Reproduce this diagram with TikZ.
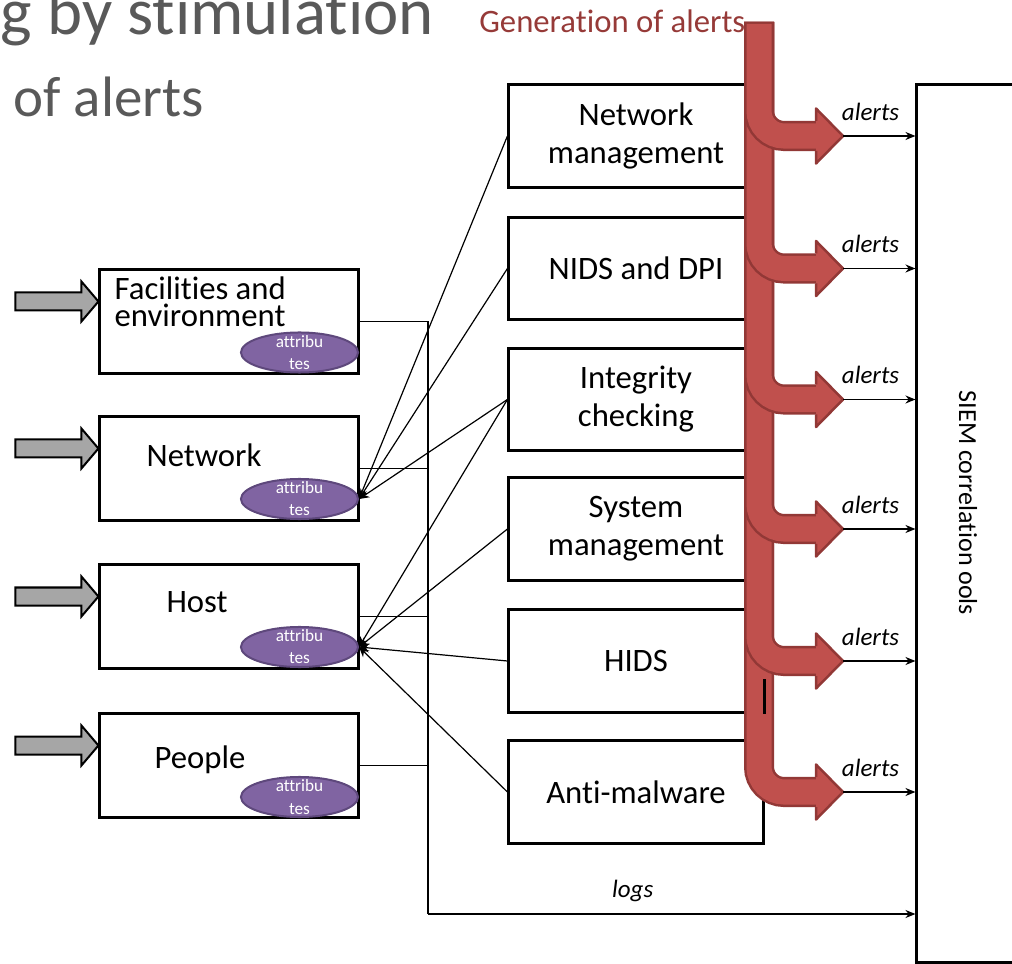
\documentclass[tikz,border=0pt]{standalone}
\usepackage{fontspec}
\setmainfont{Carlito}[Ligatures={NoCommon}]
\usetikzlibrary{shapes.geometric,arrows.meta}
\definecolor{alertred}{RGB}{192,80,77}
\definecolor{alertdark}{RGB}{146,56,54}
\definecolor{attrpurple}{RGB}{128,100,162}
\definecolor{attrdark}{RGB}{94,72,124}
\definecolor{titlegrey}{RGB}{89,89,89}
\definecolor{gentext}{RGB}{150,58,56}
\newcommand{\inarrow}[1]{
\begin{scope}[shift={(#1.west)}]
\filldraw[fill=black!35!white, draw=black, line width=0.2mm, line join=miter] (-83,-29)--(-17,-29)--(-17,-40)--(0,-20)--(-17,0)--(-17,-11)--(-83,-11)--cycle;
\end{scope}
}
\newcommand{\alertbranch}[1]{
\draw[alertdark, line width=3mm, rounded corners=2.5mm] (759,22) -- (759,#1) -- (818,#1);
\draw[alertred, line width=2.5mm, rounded corners=2.5mm] (759,24) -- (759,#1) -- (818,#1);
\fill[alertred] (816,#1-27.5) -- (843,#1) -- (816,#1+27.5) -- cycle;
\draw[alertdark, line width=0.25mm, line join=round] (816,#1-15) -- (816,#1-27.5) -- (843,#1) -- (816,#1+27.5) -- (816,#1+15);
}
\tikzset{
  srcbox/.style={draw, line width=0.3mm, fill=white, minimum width=2.58cm, minimum height=1.03cm, inner sep=0},
  midbox/.style={draw, line width=0.3mm, fill=white, minimum width=2.54cm, minimum height=1.02cm, inner sep=0, align=center, font=\fontsize{9.3}{10.8}\selectfont},
  srctext/.style={inner sep=0, font=\fontsize{9.3}{7.6}\selectfont},
  attrtext/.style={text=white, align=center, inner sep=0, font=\fontsize{4.9}{6.3}\selectfont},
  attr/.style={ellipse, draw=attrdark, fill=attrpurple, line width=0.2mm, minimum width=1.17cm, minimum height=0.4cm, inner sep=0, label={[attrtext]center:{attribu\\tes}}},
  stim/.style={line width=0.12mm, -{Stealth[length=1mm,width=0.9mm]}},
  bus/.style={line width=0.12mm},
  alertline/.style={line width=0.12mm, -{Stealth[length=1mm,width=0.8mm]}},
  alertlbl/.style={pos=0.38, above=1.5mm, inner sep=0, font=\fontsize{7.1}{8}\selectfont\itshape}
}
\begin{document}
\begin{tikzpicture}[x=0.01cm,y=-0.01cm]
\useasboundingbox (0,0) rectangle (1012,964);

% slide title
\node[anchor=base west, inner sep=0, text=titlegrey, font=\fontsize{19}{19}\selectfont] (title) at (0,35) {g by stimulation};
\node[anchor=base west, inner sep=0, text=titlegrey, font=\fontsize{16.2}{16}\selectfont] (subtitle) at (13,117) {of alerts};
\node[anchor=base east, inner sep=0, text=gentext, font=\fontsize{9.3}{10}\selectfont] (gentitle) at (746,33) {Generation of alerts};

% sources
\node[srcbox] (fac) at (229,321.5) {};
\node[srcbox] (net) at (229,468.5) {};
\node[srcbox] (host) at (229,616.5) {};
\node[srcbox] (people) at (229,765.5) {};

\node[srctext, anchor=north west, align=left] (factext) at (114,276) {Facilities and\\environment};
\node[srctext, anchor=base] (nettext) at (204,467) {Network};
\node[srctext, anchor=base] (hosttext) at (197,612) {Host};
\node[srctext, anchor=base] (peopletext) at (200,768) {People};

\node[attr] (facattr) at (299.5,352.5) {};
\node[attr] (netattr) at (299.5,499) {};
\node[attr] (hostattr) at (299.5,647) {};
\node[attr] (peopleattr) at (299.5,797) {};

\inarrow{fac}
\inarrow{net}
\inarrow{host}
\inarrow{people}

% sensors
\node[midbox] (netmgmt) at (636,136) {Network\\management};
\node[midbox] (nids) at (636,268.5) {NIDS and DPI};
\node[midbox] (integ) at (636,399.5) {Integrity\\checking};
\node[midbox] (sysmgmt) at (636,529) {System\\management};
\node[midbox] (hids) at (636,661) {HIDS};
\node[midbox] (antimal) at (636,792) {Anti-malware};

\node[draw, line width=0.3mm, minimum width=1.3cm, minimum height=8.77cm, inner sep=0] (siem) at (982,523.5) {};
\node[rotate=-90, inner sep=0, font=\fontsize{7.4}{8}\selectfont] (siemtext) at (968,503) {SIEM correlation ools};

% stimulation
\draw[stim] (netmgmt.west) -- (netattr.east);
\draw[stim] (nids.west) -- (netattr.east);
\draw[stim] (integ.west) -- (netattr.east);
\draw[stim] (integ.west) -- (hostattr.east);
\draw[stim] (sysmgmt.west) -- (hostattr.east);
\draw[stim] (hids.west) -- (hostattr.east);
\draw[stim] (antimal.west) -- (hostattr.east);

% logs
\coordinate (bustop) at (428,321.5);
\coordinate (busbot) at (428,914);
\draw[bus] (fac.east) -- (fac.east -| bustop);
\draw[bus] (net.east) -- (net.east -| bustop);
\draw[bus] (host.east) -- (host.east -| bustop);
\draw[bus] (people.east) -- (people.east -| bustop);
\draw[bus] (bustop) -- (busbot);
\draw[alertline] (busbot) -- (busbot -| siem.west) node[pos=0.42, above=1.2mm, inner sep=0, font=\fontsize{7.1}{8}\selectfont\itshape] {logs};

% alerts
\alertbranch{792}
\alertbranch{661}
\alertbranch{529}
\alertbranch{399.5}
\alertbranch{268.5}
\alertbranch{136}
\draw[line width=0.3mm] (hids.south east) -- ++(0,-35);

\coordinate (tipx) at (843,0);
\foreach \b in {netmgmt,nids,integ,sysmgmt,hids,antimal}
  \draw[alertline] (tipx |- \b.center) -- (siem.west |- \b.center) node[alertlbl] {alerts};

\end{tikzpicture}
\end{document}
